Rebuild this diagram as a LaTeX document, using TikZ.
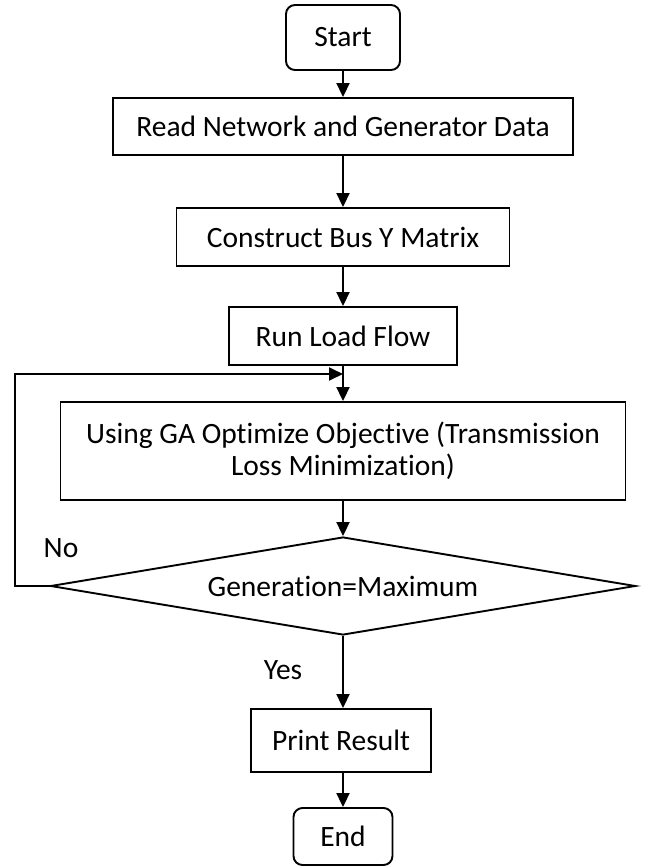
\documentclass[tikz,border=0pt]{standalone}
\usepackage{fontspec}
\setmainfont[Ligatures=NoCommon]{Carlito}
\usetikzlibrary{shapes.geometric,arrows.meta}
\tikzset{
  box/.style={draw,line width=1.9pt,rectangle,inner sep=0pt,align=center},
  term/.style={box,rounded corners=9pt},
  arr/.style={line width=1.9pt,-{Triangle[length=14pt,width=13pt]}},
}
\begin{document}
\begin{tikzpicture}[x=1pt,y=-1pt,font=\fontsize{29.5}{32}\selectfont]
  \useasboundingbox (0,0) rectangle (652,868);
  % boxes, top to bottom
  \node[term,minimum width=114pt,minimum height=65pt] (start) at (343,37.5) {Start};
  \node[box,minimum width=460pt,minimum height=57pt] (read) at (343,126.5) {Read Network and Generator Data};
  \node[box,minimum width=333pt,minimum height=58pt] (bus) at (343,237) {Construct Bus Y Matrix};
  \node[box,minimum width=228pt,minimum height=58pt] (flow) at (343,336) {Run Load Flow};
  \node[box,minimum width=565pt,minimum height=98pt] (ga) at (343,451) {Using GA Optimize Objective (Transmission\\Loss Minimization)};
  \node[draw,diamond,line width=1.9pt,aspect=5.97,minimum width=585pt,minimum height=98pt,inner sep=0pt] (gen) at (343,586) {Generation=Maximum};
  \node[box,minimum width=180pt,minimum height=63pt] (print) at (341,740.5) {Print Result};
  \node[term,minimum width=99pt,minimum height=57pt] (end) at (343,836.5) {End};
  %
  \node (no) at (61,548) {No};
  \node (yes) at (283,670) {Yes};
  \coordinate (fbl) at (15,586);
  \coordinate (fbt) at (15,374);
  \coordinate (fbj) at (343,374);
  % connectors
  \draw[arr] (start) -- (read);
  \draw[arr] (read) -- (bus);
  \draw[arr] (bus) -- (flow);
  \draw[arr] (flow) -- (ga);
  \draw[arr] (ga) -- (gen);
  \draw[arr] (gen.south) -- (gen.south |- print.north);
  \draw[arr] (print.south -| end.north) -- (end.north);
  \draw[arr] (gen.west) -- (fbl) -- (fbt) -- (fbj);
\end{tikzpicture}
\end{document}
